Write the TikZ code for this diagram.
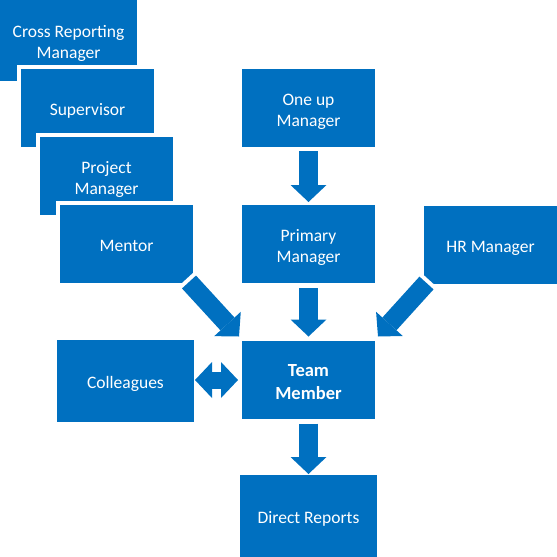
\documentclass[tikz,border=0pt]{standalone}
\usepackage{fontspec}
\setmainfont{Carlito}
\usetikzlibrary{arrows.meta}
\definecolor{myblue}{HTML}{0070C0}
\newcommand\bt[1]{\raisebox{-3.5pt}[\height][\depth]{\begin{tabular}{@{}c@{}}#1\end{tabular}}}
\tikzset{
  box/.style={fill=myblue, text=white, align=center, inner sep=0pt, outer sep=0pt,
    minimum width=133pt, minimum height=78pt,
    font=\fontsize{17.5}{21}\selectfont},
  halo/.style={preaction={draw=white, line width=9pt}},
  barrow/.style={draw=myblue, line width=19pt, line cap=butt,
    -{Triangle[width=36pt, length=17pt, line width=0pt]}},
  darrow/.style={draw=myblue, line width=17pt, line cap=butt,
    {Triangle[width=36pt, length=17pt, line width=0pt]}-{Triangle[width=36pt, length=17pt, line width=0pt]}},
  arrowhalo/.style={draw=white, line width=27pt, line cap=butt, shorten <=-4pt, shorten >=22pt}
}
\begin{document}
\begin{tikzpicture}[x=1pt, y=-1pt]
\useasboundingbox (0,0) rectangle (557,557);
% stacked boxes
\node[box, halo, minimum width=137pt, minimum height=81pt] (cross) at (68.5,40.5) {\bt{Cross Reporting\\Manager}};
\node[box, halo] (sup) at (87.5,108) {\bt{Supervisor}};
\node[box, halo] (proj) at (106.5,176) {\bt{Project\\Manager}};
\node[box, halo] (mentor) at (126.5,244) {\bt{Mentor}};
% main column
\node[box] (one) at (308.5,108) {\bt{One up\\Manager}};
\node[box] (primary) at (308.5,244) {\bt{Primary\\Manager}};
\node[box] (hr) at (490.5,244.5) {\bt{HR Manager}};
\node[box, font=\fontsize{18.5}{23}\selectfont\bfseries] (team) at (308.5,379.5) {\bt{Team\\Member}};
\node[box, minimum width=137pt, minimum height=82pt] (coll) at (125.5,381) {\bt{Colleagues}};
\node[box, minimum width=137pt, minimum height=82pt] (direct) at (308.5,516) {\bt{Direct Reports}};
% arrows
\draw[barrow] ([yshift=-4pt]one.south) -- ([yshift=3pt]primary.north);
\draw[barrow] ([yshift=-5pt]primary.south) -- ([yshift=4pt]team.north);
\draw[barrow] ([yshift=-5pt]team.south) -- ([yshift=1pt]direct.north);
\draw[arrowhalo] ([shift={(-4,-1)}]mentor.south east) -- ([shift={(-3,-4)}]team.north west);
\draw[barrow] ([shift={(-4,-1)}]mentor.south east) -- ([shift={(-3,-4)}]team.north west);
\draw[arrowhalo] ([shift={(2.5,-0.5)}]hr.south west) -- ([shift={(3,-4)}]team.north east);
\draw[barrow] ([shift={(2.5,-0.5)}]hr.south west) -- ([shift={(3,-4)}]team.north east);
\draw[darrow] ([xshift=1pt]coll.east |- 0,380) -- ([xshift=-4pt]team.west |- 0,380);
\end{tikzpicture}
\end{document}
